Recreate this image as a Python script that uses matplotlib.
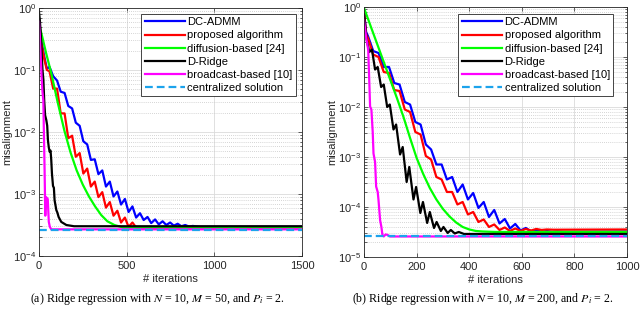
import numpy as np
import matplotlib
matplotlib.use("Agg")
import matplotlib.pyplot as plt

plt.rcParams['font.family'] = ['Liberation Sans', 'DejaVu Sans']
plt.rcParams['mathtext.fontset'] = 'custom'
plt.rcParams['mathtext.rm'] = 'Liberation Sans'
plt.rcParams['mathtext.it'] = 'Liberation Sans:italic'
plt.rcParams['mathtext.bf'] = 'Liberation Sans:bold'

# 数据: (iteration, log10 misalignment)
# (a) N=10, M=50
a_admm = [(0, -0.35), (15, -0.55), (30, -0.78), (45, -0.98), (60, -0.95), (81, -1.10),
          (103, -1.17), (124, -1.35), (146, -1.37), (167, -1.58), (189, -1.62), (210, -1.85),
          (232, -1.90), (253, -2.15), (275, -2.20), (296, -2.45), (318, -2.44), (339, -2.68),
          (361, -2.62), (382, -2.88), (404, -2.80), (425, -3.04), (447, -2.96), (468, -3.17),
          (490, -3.08), (511, -3.29), (533, -3.20), (554, -3.38), (576, -3.31), (597, -3.42),
          (619, -3.37), (640, -3.47), (662, -3.41), (683, -3.49), (705, -3.44), (726, -3.50),
          (748, -3.46), (769, -3.51), (791, -3.48), (812, -3.52), (834, -3.50), (855, -3.525),
          (877, -3.515), (920, -3.53), (1500, -3.53)]
a_prop = [(0, -0.30), (15, -0.60), (30, -0.82), (45, -1.00), (60, -1.02), (81, -1.30),
          (103, -1.30), (124, -1.70), (146, -1.70), (167, -2.10), (189, -2.06), (210, -2.40),
          (232, -2.34), (253, -2.67), (275, -2.59), (296, -2.88), (318, -2.80), (339, -3.05),
          (361, -2.97), (382, -3.22), (404, -3.13), (425, -3.35), (447, -3.27), (468, -3.46),
          (490, -3.38), (511, -3.53), (533, -3.46), (554, -3.54), (600, -3.54), (1500, -3.54)]
a_diff = [(0, -0.25), (20, -0.48), (40, -0.72), (70, -1.05), (105, -1.50), (145, -1.98),
          (180, -2.33), (215, -2.62), (250, -2.85), (285, -3.04), (320, -3.20), (355, -3.34),
          (390, -3.44), (430, -3.50), (480, -3.54), (1500, -3.54)]
a_dridge = [(0, -0.06), (5, -0.20), (10, -0.40), (15, -0.70), (20, -1.00), (25, -1.15),
            (30, -1.50), (35, -1.73), (42, -1.81), (47, -1.90), (51, -2.13), (56, -2.25),
            (61, -2.32), (66, -2.30), (70, -2.45), (74, -2.67), (80, -2.87), (85, -2.90),
            (89, -3.10), (99, -3.26), (105, -3.30), (112, -3.37), (127, -3.45), (156, -3.50),
            (200, -3.52), (1500, -3.52)]
a_bcast = [(0, -0.22), (5, -0.45), (10, -0.80), (15, -1.11), (20, -1.35), (25, -1.50),
           (28, -2.00), (32, -2.60), (36, -3.35), (40, -3.05), (50, -3.08), (56, -3.45),
           (62, -3.53), (70, -3.57), (1500, -3.57)]
a_central = [(0, -3.58), (1500, -3.58)]

# (b) N=10, M=200
b_admm = [(0, -0.10), (8, -0.50), (15, -0.58), (35, -0.88), (55, -0.92), (75, -1.20),
          (95, -1.20), (115, -1.52), (135, -1.55), (155, -1.90), (175, -1.95), (195, -2.30),
          (215, -2.35), (235, -2.75), (255, -2.85), (275, -3.15), (295, -3.15), (315, -3.45),
          (335, -3.40), (355, -3.70), (375, -3.55), (395, -3.85), (415, -3.72), (435, -4.02),
          (455, -3.90), (475, -4.20), (495, -4.06), (515, -4.33), (535, -4.24), (555, -4.43),
          (575, -4.34), (595, -4.47), (615, -4.42), (635, -4.49), (655, -4.46), (675, -4.50),
          (695, -4.48), (715, -4.50), (735, -4.49), (760, -4.50), (1000, -4.49)]
b_prop = [(0, -0.10), (8, -0.55), (15, -0.62), (35, -0.95), (55, -1.00), (75, -1.30),
          (95, -1.32), (115, -1.66), (135, -1.68), (155, -2.05), (175, -2.10), (195, -2.50),
          (215, -2.55), (235, -2.98), (255, -3.05), (275, -3.40), (295, -3.45), (315, -3.70),
          (335, -3.70), (355, -3.95), (375, -3.90), (395, -4.15), (415, -4.10), (435, -4.30),
          (455, -4.25), (475, -4.40), (495, -4.35), (515, -4.46), (535, -4.41), (555, -4.48),
          (575, -4.43), (595, -4.48), (615, -4.44), (635, -4.47), (655, -4.44), (675, -4.46),
          (695, -4.45), (720, -4.455), (1000, -4.45)]
b_diff = [(0, -0.02), (25, -0.38), (50, -0.74), (75, -1.10), (100, -1.46), (125, -1.82),
          (150, -2.20), (175, -2.62), (200, -3.02), (225, -3.34), (250, -3.62), (275, -3.85),
          (300, -4.04), (325, -4.19), (350, -4.31), (375, -4.40), (400, -4.45), (425, -4.48),
          (450, -4.49), (500, -4.50), (1000, -4.50)]
b_dridge = [(0, -0.15), (10, -0.65), (20, -0.90), (30, -0.85), (42, -1.25), (52, -1.20),
            (65, -1.60), (75, -1.55), (88, -2.00), (98, -1.95), (112, -2.45), (122, -2.35),
            (137, -2.95), (147, -2.80), (162, -3.50), (172, -3.20), (188, -3.85), (198, -3.60),
            (214, -4.12), (224, -3.90), (240, -4.32), (250, -4.10), (266, -4.42), (276, -4.30),
            (292, -4.48), (302, -4.40), (318, -4.52), (330, -4.46), (345, -4.53), (360, -4.50),
            (380, -4.54), (1000, -4.54)]
b_bcast = [(0, -0.26), (8, -0.60), (16, -0.86), (20, -1.50), (23, -1.99), (28, -2.05),
           (33, -2.50), (36, -2.93), (42, -3.10), (46, -3.59), (52, -3.70), (55, -3.86),
           (61, -4.26), (66, -4.40), (70, -4.56), (75, -4.59), (82, -4.55), (90, -4.56),
           (98, -4.59), (1000, -4.59)]
b_central = [(0, -4.58), (1000, -4.58)]

labels = ['DC-ADMM', 'proposed algorithm', 'diffusion-based [24]', 'D-Ridge',
          'broadcast-based [10]', 'centralized solution']
colors = ['#0000FF', '#FF0000', '#00FF00', '#000000', '#FF00FF', '#1CA3EC']

captions = [r"(a) Ridge regression with $N$ = 10, $M$ = 50, and $P_i$ = 2.",
            r"(b) Ridge regression with $N$ = 10, $M$ = 200, and $P_i$ = 2."]


def draw_panel(ax, series, xmax, xticks, ymin):
    for k, (s, lab, c) in enumerate(zip(series, labels, colors)):
        arr = np.array(s, dtype=float)
        if k == 5:
            ax.plot(arr[:, 0], 10.0 ** arr[:, 1], color=c, lw=1.6, ls=(0, (3.5, 1.8)), label=lab)
        else:
            ax.plot(arr[:, 0], 10.0 ** arr[:, 1], color=c, lw=1.6, label=lab)
    ax.set_yscale('log')
    ax.set_xlim(0, xmax)
    ax.set_ylim(ymin, 1)
    ax.set_xticks(xticks)
    ax.set_axisbelow(True)
    ax.grid(True, which='major', color='0.86', lw=0.6)
    ax.grid(True, which='minor', axis='y', color='0.78', lw=0.6, ls=(0, (1, 1.5)))
    ax.tick_params(which='both', direction='in', top=True, right=True, labelsize=8,
                   colors='0.15', width=0.5)
    ax.tick_params(which='major', length=3)
    ax.tick_params(which='minor', length=1.8)
    ax.tick_params(axis='y', which='major', pad=2)
    for sp in ax.spines.values():
        sp.set_color('0.15')
        sp.set_linewidth(0.6)
    ax.set_xlabel('# iterations', fontsize=8, color='0.15')
    ax.set_ylabel('misalignment', fontsize=8, color='0.15')
    ax.xaxis.set_label_coords(0.5, -0.072)
    ax.yaxis.set_label_coords(-0.1, 0.5)


fig = plt.figure(figsize=(6.4, 3.2), dpi=100)
ax1 = fig.add_axes([0.0609, 0.2, 0.411, 0.775])
ax2 = fig.add_axes([0.5688, 0.197, 0.411, 0.781])

draw_panel(ax1, [a_admm, a_prop, a_diff, a_dridge, a_bcast, a_central], 1500, [0, 500, 1000, 1500], 1e-4)
draw_panel(ax2, [b_admm, b_prop, b_diff, b_dridge, b_bcast, b_central], 1000,
           [0, 200, 400, 600, 800, 1000], 1e-5)

for ax, anchor in [(ax1, (0.977, 0.976)), (ax2, (0.947, 0.972))]:
    leg = ax.legend(loc='upper right', bbox_to_anchor=anchor, fontsize=8, handlelength=3.6,
                    fancybox=False, edgecolor='0.15', framealpha=1, borderpad=0.3,
                    labelspacing=0.28, handletextpad=0.25, borderaxespad=0)
    leg.get_frame().set_linewidth(0.6)

fig.text(157 / 640, 1 - 299 / 320, captions[0], ha='center', va='center',
         family='Liberation Serif', math_fontfamily='stix', fontsize=8.6)
fig.text(483 / 640, 1 - 299 / 320, captions[1], ha='center', va='center',
         family='Liberation Serif', math_fontfamily='stix', fontsize=8.6)

fig.savefig('out.png', dpi=100)
